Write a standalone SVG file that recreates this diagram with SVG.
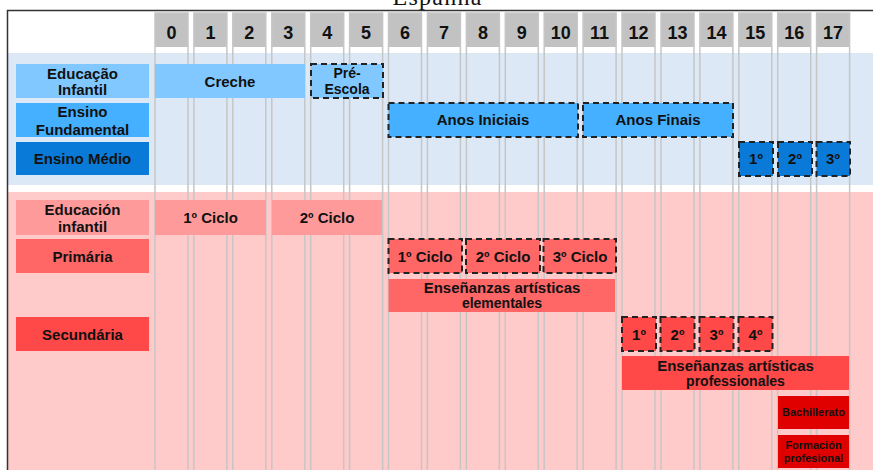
<svg xmlns="http://www.w3.org/2000/svg" width="873" height="470" viewBox="0 0 873 470">
<style>
text{font-family:"Liberation Sans",Arial,Helvetica,sans-serif;font-weight:bold;fill:#111;text-anchor:middle;font-size:15px}
.hd{font-size:18px}
.sm{font-size:11px}
.s14{font-size:14px}
.col{fill:none;stroke:#c6c6c6;stroke-width:1.5}
.hdr{fill:#c2c2c2}
.dash{stroke:#222;stroke-width:2;stroke-dasharray:6 4}
.b1{fill:#80c8ff}
.b2{fill:#44b0ff}
.b3{fill:#0a7ad8}
.r1{fill:#ff9a9a}
.r2{fill:#ff6666}
.r3{fill:#ff4848}
.r4{fill:#e00000}
</style>
<rect x="0" y="0" width="873" height="470" fill="#fff"/>
<text x="437" y="5" style="font-family:'Liberation Serif','Times New Roman',serif;font-weight:normal;font-size:24px" textLength="89">Espanha</text>
<g id="bands">
<rect x="7" y="53" width="866" height="132" fill="#dce8f6"/>
<rect x="7" y="192" width="866" height="280" fill="#ffcaca"/>
</g>
<path d="M7.5 480V10.5H873" fill="none" stroke="#333" stroke-width="1.5"/>
<g id="columns">
<g id="c0"><rect class="hdr" x="155" y="13" width="33" height="34"/><rect class="col" x="155" y="13" width="33" height="470"/><text class="hd" x="171.5" y="38.5">0</text></g>
<g id="c1"><rect class="hdr" x="193.9" y="13" width="33" height="34"/><rect class="col" x="193.9" y="13" width="33" height="470"/><text class="hd" x="210.4" y="38.5">1</text></g>
<g id="c2"><rect class="hdr" x="232.8" y="13" width="33" height="34"/><rect class="col" x="232.8" y="13" width="33" height="470"/><text class="hd" x="249.3" y="38.5">2</text></g>
<g id="c3"><rect class="hdr" x="271.8" y="13" width="33" height="34"/><rect class="col" x="271.8" y="13" width="33" height="470"/><text class="hd" x="288.3" y="38.5">3</text></g>
<g id="c4"><rect class="hdr" x="310.7" y="13" width="33" height="34"/><rect class="col" x="310.7" y="13" width="33" height="470"/><text class="hd" x="327.2" y="38.5">4</text></g>
<g id="c5"><rect class="hdr" x="349.6" y="13" width="33" height="34"/><rect class="col" x="349.6" y="13" width="33" height="470"/><text class="hd" x="366.1" y="38.5">5</text></g>
<g id="c6"><rect class="hdr" x="388.5" y="13" width="33" height="34"/><rect class="col" x="388.5" y="13" width="33" height="470"/><text class="hd" x="405" y="38.5">6</text></g>
<g id="c7"><rect class="hdr" x="427.4" y="13" width="33" height="34"/><rect class="col" x="427.4" y="13" width="33" height="470"/><text class="hd" x="443.9" y="38.5">7</text></g>
<g id="c8"><rect class="hdr" x="466.4" y="13" width="33" height="34"/><rect class="col" x="466.4" y="13" width="33" height="470"/><text class="hd" x="482.9" y="38.5">8</text></g>
<g id="c9"><rect class="hdr" x="505.3" y="13" width="33" height="34"/><rect class="col" x="505.3" y="13" width="33" height="470"/><text class="hd" x="521.8" y="38.5">9</text></g>
<g id="c10"><rect class="hdr" x="544.2" y="13" width="33" height="34"/><rect class="col" x="544.2" y="13" width="33" height="470"/><text class="hd" x="560.7" y="38.5">10</text></g>
<g id="c11"><rect class="hdr" x="583.1" y="13" width="33" height="34"/><rect class="col" x="583.1" y="13" width="33" height="470"/><text class="hd" x="599.6" y="38.5">11</text></g>
<g id="c12"><rect class="hdr" x="622" y="13" width="33" height="34"/><rect class="col" x="622" y="13" width="33" height="470"/><text class="hd" x="638.5" y="38.5">12</text></g>
<g id="c13"><rect class="hdr" x="661" y="13" width="33" height="34"/><rect class="col" x="661" y="13" width="33" height="470"/><text class="hd" x="677.5" y="38.5">13</text></g>
<g id="c14"><rect class="hdr" x="699.9" y="13" width="33" height="34"/><rect class="col" x="699.9" y="13" width="33" height="470"/><text class="hd" x="716.4" y="38.5">14</text></g>
<g id="c15"><rect class="hdr" x="738.8" y="13" width="33" height="34"/><rect class="col" x="738.8" y="13" width="33" height="470"/><text class="hd" x="755.3" y="38.5">15</text></g>
<g id="c16"><rect class="hdr" x="777.7" y="13" width="33" height="34"/><rect class="col" x="777.7" y="13" width="33" height="470"/><text class="hd" x="794.2" y="38.5">16</text></g>
<g id="c17"><rect class="hdr" x="816.6" y="13" width="33" height="34"/><rect class="col" x="816.6" y="13" width="33" height="470"/><text class="hd" x="833.1" y="38.5">17</text></g>
</g>
<g id="connectors"/>
<g id="lbl-edu-infantil"><rect class="b1" x="16" y="64" width="133" height="34"/><text x="82.5" y="78.5">Educação</text><text x="82.5" y="95">Infantil</text></g>
<g id="lbl-ensino-fund"><rect class="b2" x="16" y="103" width="133" height="34"/><text x="82.5" y="117">Ensino</text><text x="82.5" y="134.5">Fundamental</text></g>
<g id="lbl-ensino-medio"><rect class="b3" x="16" y="142" width="133" height="33"/><text x="82.5" y="164">Ensino Médio</text></g>
<g id="lbl-educacion-infantil"><rect class="r1" x="16" y="200" width="133" height="35"/><text x="82.5" y="214.5">Educación</text><text x="82.5" y="231.5">infantil</text></g>
<g id="lbl-primaria"><rect class="r2" x="16" y="239" width="133" height="34"/><text x="82.5" y="261.5">Primária</text></g>
<g id="lbl-secundaria"><rect class="r3" x="16" y="317" width="133" height="34"/><text x="82.5" y="339.5">Secundária</text></g>
<g id="creche"><rect class="b1" x="155" y="64" width="150" height="34"/><text x="230" y="86.5">Creche</text></g>
<g id="pre-escola"><rect class="b1 dash" x="311" y="64" width="72" height="34"/><text x="347" y="78" class="s14">Pré-</text><text x="347" y="94" class="s14">Escola</text></g>
<g id="anos-iniciais"><rect class="b2 dash" x="388.5" y="103" width="189.5" height="34"/><text x="483" y="125">Anos Iniciais</text></g>
<g id="anos-finais"><rect class="b2 dash" x="583" y="103" width="150" height="34"/><text x="658" y="125">Anos Finais</text></g>
<g id="medio-1"><rect class="b3 dash" x="739" y="142" width="34" height="34"/><text x="756" y="164">1º</text></g>
<g id="medio-2"><rect class="b3 dash" x="778" y="142" width="34" height="34"/><text x="795" y="164">2º</text></g>
<g id="medio-3"><rect class="b3 dash" x="816.5" y="142" width="33.5" height="34"/><text x="833" y="164">3º</text></g>
<g id="inf-ciclo1"><rect class="r1" x="155" y="200" width="111" height="35"/><text x="210.5" y="223">1º Ciclo</text></g>
<g id="inf-ciclo2"><rect class="r1" x="272" y="200" width="110" height="35"/><text x="327" y="223">2º Ciclo</text></g>
<g id="prim-ciclo1"><rect class="r2 dash" x="388.5" y="239" width="73.5" height="34"/><text x="425" y="261.5">1º Ciclo</text></g>
<g id="prim-ciclo2"><rect class="r2 dash" x="466" y="239" width="74" height="34"/><text x="503" y="261.5">2º Ciclo</text></g>
<g id="prim-ciclo3"><rect class="r2 dash" x="543.5" y="239" width="72.5" height="34"/><text x="580" y="261.5">3º Ciclo</text></g>
<g id="ens-elementales"><rect class="r2" x="388.5" y="279" width="226.5" height="33"/><text x="502" y="293">Enseñanzas artísticas</text><text x="502" y="307.5" class="s14">elementales</text></g>
<g id="sec-1"><rect class="r3 dash" x="622" y="317" width="34" height="34"/><text x="639" y="339.5">1º</text></g>
<g id="sec-2"><rect class="r3 dash" x="660.5" y="317" width="34" height="34"/><text x="677.5" y="339.5">2º</text></g>
<g id="sec-3"><rect class="r3 dash" x="699.5" y="317" width="34" height="34"/><text x="716.5" y="339.5">3º</text></g>
<g id="sec-4"><rect class="r3 dash" x="738.5" y="317" width="34" height="34"/><text x="755.5" y="339.5">4º</text></g>
<g id="ens-profesionales"><rect class="r3" x="622" y="356" width="227" height="34"/><text x="735.5" y="370.5">Enseñanzas artísticas</text><text x="735.5" y="386" class="s14">professionales</text></g>
<g id="bachillerato"><rect class="r4" x="778" y="396" width="71" height="33"/><text class="sm" x="813.5" y="416">Bachillerato</text></g>
<g id="formacion"><rect class="r4" x="778" y="435" width="71" height="33"/><text class="sm" x="813.5" y="449">Formación</text><text class="sm" x="813.5" y="462">profesional</text></g>
</svg>
